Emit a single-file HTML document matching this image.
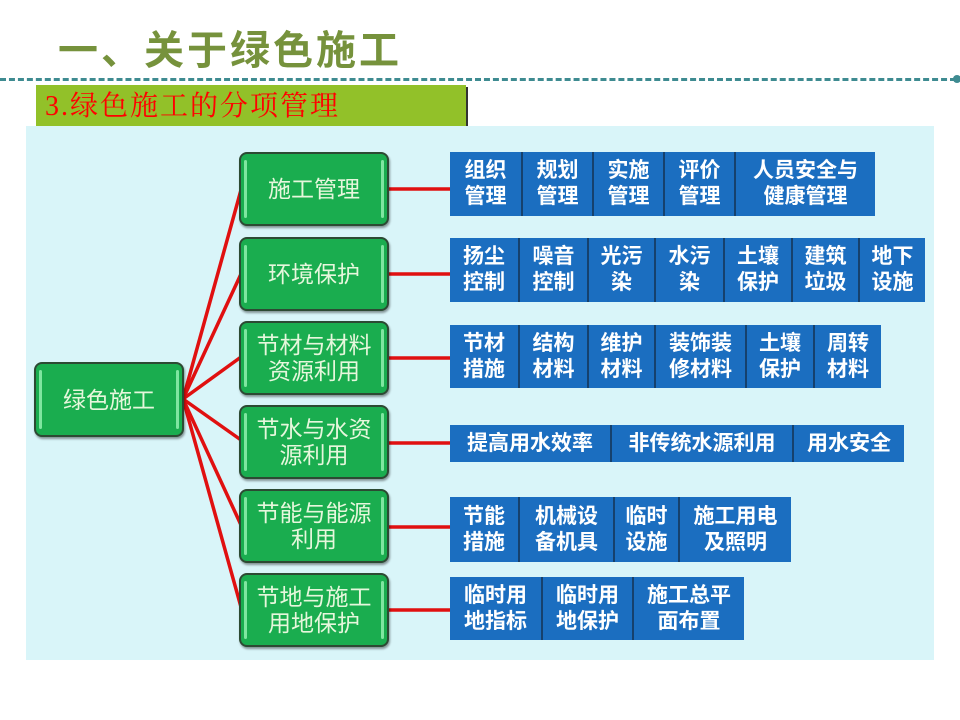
<!DOCTYPE html>
<html><head><meta charset="utf-8"><style>
*{margin:0;padding:0;box-sizing:border-box}
body{width:960px;height:720px;background:#fff;position:relative;overflow:hidden;font-family:"Liberation Sans","Noto Sans CJK SC",sans-serif}
.title{position:absolute;left:58px;top:27px;font-size:40px;color:#76923c;font-weight:bold;letter-spacing:3px;line-height:48px}
.dash{position:absolute;left:0;top:78px;width:956px;border-top:3px dashed #3e8b91}
.dot{position:absolute;left:953px;top:75px;width:8px;height:8px;border-radius:50%;background:#3e8b91}
.banner{position:absolute;left:36px;top:85px;width:430px;height:41px;background:#92c129;box-shadow:2px 2px 0 #333;font-family:"Liberation Serif","Noto Serif CJK SC",serif;color:#f00;font-size:28px;letter-spacing:2px;line-height:43px;padding-left:9px}
.panel{position:absolute;left:26px;top:126px;width:908px;height:534px;background:#d9f5f9}
.g{position:absolute;background:#1aad4f;border:2px solid #2c4a33;border-radius:8px;color:#e6f7dc;font-size:23px;text-align:center;display:flex;align-items:center;justify-content:center;line-height:26px;box-shadow:1px 2px 2px rgba(0,0,0,.4)}
.g:before,.g:after{content:"";position:absolute;top:6px;bottom:6px;width:3px;background:#7fe6a0;border-radius:2px}
.g:before{left:3px}.g:after{right:3px}
.row{position:absolute;display:flex;background:#1b6ec0}
.row div{color:#fff;font-weight:bold;font-size:21px;line-height:26px;text-align:center;display:flex;align-items:center;justify-content:center;border-left:2px solid #16416d}
.row div:first-child{border-left:none}
svg{position:absolute;left:0;top:0}
</style></head><body>
<div class="title">一、关于绿色施工</div>
<div class="dash"></div><div class="dot"></div>
<div class="banner">3.绿色施工的分项管理</div>
<div class="panel"></div>
<svg width="960" height="720">
<g stroke="#e01010" stroke-width="3.5" fill="none">
<line x1="183" y1="399" x2="241" y2="190"/>
<line x1="183" y1="399" x2="241" y2="274"/>
<line x1="183" y1="399" x2="241" y2="357"/>
<line x1="183" y1="399" x2="241" y2="440"/>
<line x1="183" y1="399" x2="241" y2="525"/>
<line x1="183" y1="399" x2="241" y2="607"/>
<line x1="388" y1="189" x2="450" y2="189"/>
<line x1="388" y1="274" x2="450" y2="274"/>
<line x1="388" y1="358" x2="450" y2="358"/>
<line x1="388" y1="443" x2="450" y2="443"/>
<line x1="388" y1="527" x2="450" y2="527"/>
<line x1="388" y1="610" x2="450" y2="610"/>
</g></svg>
<div class="g" style="left:34px;top:362px;width:150px;height:75px">绿色施工</div>
<div class="g" style="left:239px;top:152px;width:150px;height:74px">施工管理</div>
<div class="g" style="left:239px;top:237px;width:150px;height:74px">环境保护</div>
<div class="g" style="left:239px;top:321px;width:150px;height:74px">节材与材料<br>资源利用</div>
<div class="g" style="left:239px;top:405px;width:150px;height:74px">节水与水资<br>源利用</div>
<div class="g" style="left:239px;top:489px;width:150px;height:74px">节能与能源<br>利用</div>
<div class="g" style="left:239px;top:573px;width:150px;height:74px">节地与施工<br>用地保护</div>

<div class="row" style="left:450px;top:152px;height:64px">
<div style="width:71px">组织<br>管理</div><div style="width:71px">规划<br>管理</div><div style="width:71px">实施<br>管理</div><div style="width:71px">评价<br>管理</div><div style="width:141px">人员安全与<br>健康管理</div></div>
<div class="row" style="left:450px;top:238px;height:64px">
<div style="width:68px">扬尘<br>控制</div><div style="width:69px">噪音<br>控制</div><div style="width:67px">光污<br>染</div><div style="width:69px">水污<br>染</div><div style="width:68px">土壤<br>保护</div><div style="width:67px">建筑<br>垃圾</div><div style="width:67px">地下<br>设施</div></div>
<div class="row" style="left:450px;top:325px;height:63px">
<div style="width:68px">节材<br>措施</div><div style="width:69px">结构<br>材料</div><div style="width:67px">维护<br>材料</div><div style="width:91px">装饰装<br>修材料</div><div style="width:68px">土壤<br>保护</div><div style="width:68px">周转<br>材料</div></div>
<div class="row" style="left:450px;top:425px;height:37px">
<div style="width:160px">提高用水效率</div><div style="width:182px">非传统水源利用</div><div style="width:112px">用水安全</div></div>
<div class="row" style="left:450px;top:497px;height:65px">
<div style="width:68px">节能<br>措施</div><div style="width:95px">机械设<br>备机具</div><div style="width:65px">临时<br>设施</div><div style="width:113px">施工用电<br>及照明</div></div>
<div class="row" style="left:450px;top:577px;height:63px">
<div style="width:91px">临时用<br>地指标</div><div style="width:91px">临时用<br>地保护</div><div style="width:112px">施工总平<br>面布置</div></div>
</body></html>
